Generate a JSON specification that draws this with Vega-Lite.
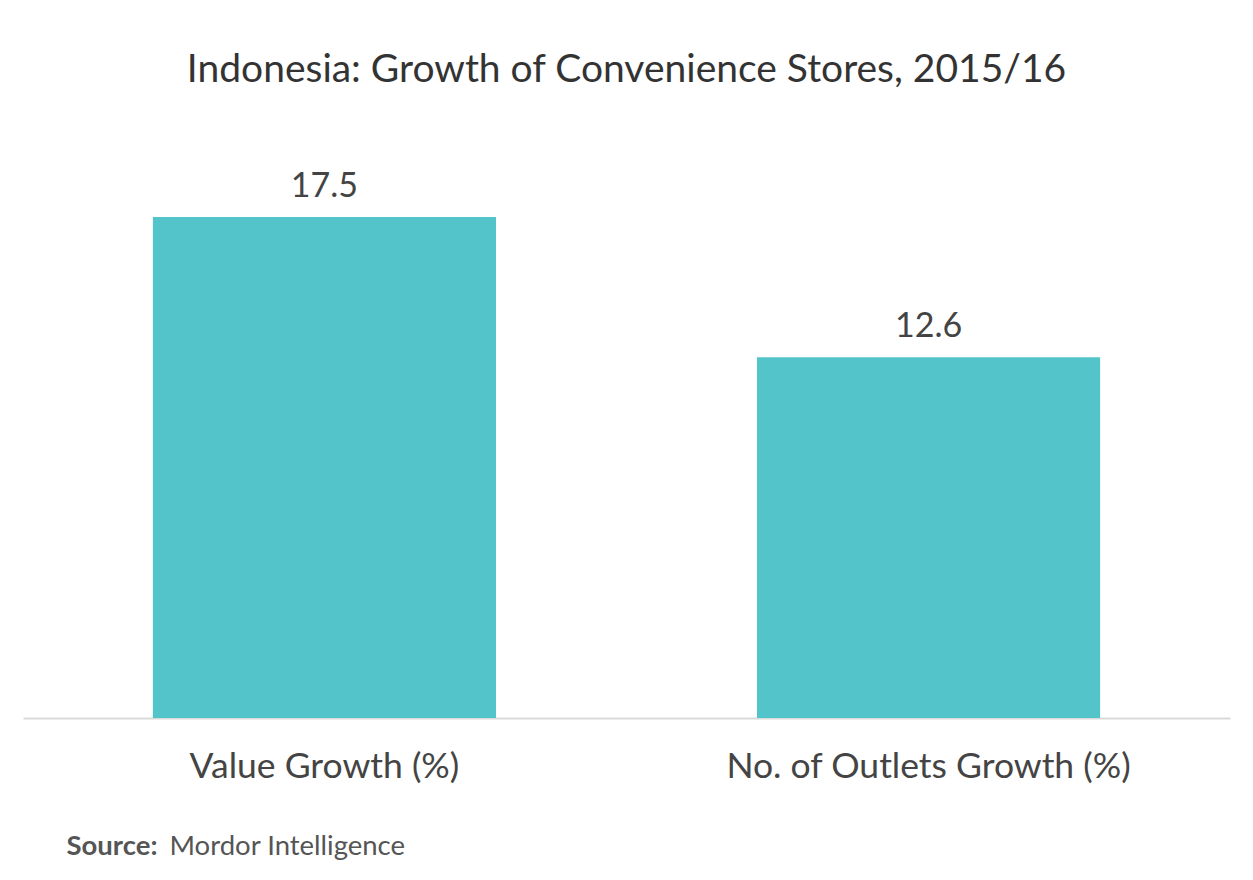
{
  "$schema": "https://vega.github.io/schema/vega-lite/v6.json",
  "width": 1207,
  "height": 578,
  "autosize": "none",
  "padding": {"left": 23, "top": 140, "right": 23, "bottom": 162},
  "background": "white",
  "config": {"view": {"stroke": null}, "font": "Lato"},
  "title": {
    "text": "Indonesia: Growth of Convenience Stores, 2015/16",
    "font": "Lato",
    "fontSize": 39,
    "fontWeight": "normal",
    "color": "#333333",
    "anchor": "middle",
    "offset": 50
  },
  "data": {
    "values": [
      {"category": "Value Growth (%)", "value": 17.5},
      {"category": "No. of Outlets Growth (%)", "value": 12.6}
    ]
  },
  "encoding": {
    "x": {
      "field": "category",
      "type": "nominal",
      "sort": null,
      "scale": {"paddingInner": 0.432, "paddingOuter": 0.215},
      "axis": {
        "title": "Source:",
        "titleFont": "Lato",
        "titleFontSize": 27.5,
        "titleFontWeight": "bold",
        "titleColor": "#555555",
        "titleAnchor": "start",
        "titleAlign": "left",
        "titleBaseline": "alphabetic",
        "titleX": 43,
        "titleY": 136,
        "labelAngle": 0,
        "labelFont": "Lato",
        "labelFontSize": 35.5,
        "labelColor": "#444444",
        "labelPadding": 31,
        "labelLimit": 0,
        "ticks": false,
        "domainColor": "#d9d9d9",
        "domainWidth": 2
      }
    },
    "y": {
      "field": "value",
      "type": "quantitative",
      "scale": {"domain": [0, 20.19], "nice": false},
      "axis": {
        "title": "Mordor Intelligence",
        "titleFont": "Lato",
        "titleFontSize": 27.5,
        "titleFontWeight": "normal",
        "titleColor": "#555555",
        "titleAngle": 0,
        "titleAlign": "left",
        "titleBaseline": "alphabetic",
        "titleX": 146,
        "titleY": 714,
        "labels": false,
        "ticks": false,
        "domain": false,
        "grid": false
      }
    }
  },
  "layer": [
    {"mark": {"type": "bar", "color": "#53C4CA"}},
    {
      "mark": {"type": "text", "dy": -20, "baseline": "alphabetic", "fontSize": 34, "font": "Lato", "color": "#444444"},
      "encoding": {"text": {"field": "value", "type": "quantitative", "format": ".1f"}}
    }
  ]
}
